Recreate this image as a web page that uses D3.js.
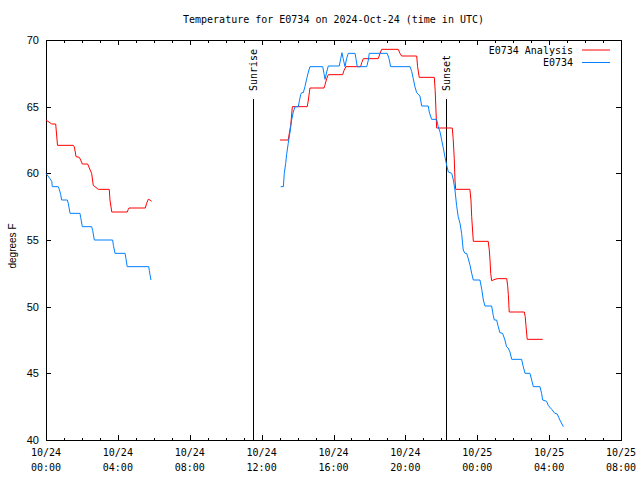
<!DOCTYPE html>
<html>
<head>
<meta charset="utf-8">
<script src="https://cdn.jsdelivr.net/npm/d3@7"></script>
<style>
  body { margin: 0; background: #fff; }
  svg { display: block; }
</style>
</head>
<body>
<svg id="chart" width="640" height="480"></svg>
<script>
// ---- Data (hours since 2024-10-24 00:00 UTC; null = gap) ----
const analysisHours = [0.00,0.32,0.54,0.64,1.52,1.57,1.63,1.67,1.85,1.93,2.02,2.32,2.41,2.54,2.63,2.91,3.52,3.56,3.66,4.52,4.58,4.62,5.53,5.60,5.69,5.79,5.88,
  null,
  13.02,13.48,13.54,13.62,13.71,14.54,14.60,14.69,15.47,15.52,15.62,15.71,16.51,16.58,16.69,17.51,17.57,17.66,18.49,18.59,18.68,19.60,19.70,19.79,20.63,20.68,20.77,21.61,21.66,21.74,22.61,22.66,22.72,22.76,22.80,23.59,23.65,23.69,23.78,24.61,24.67,24.71,24.75,24.80,24.99,25.11,25.64,25.69,25.73,25.78,26.62,26.67,26.71,26.78,27.64];
const analysisValues = [64.0,63.7,63.7,62.1,62.1,62.0,61.6,61.25,61.2,61.0,60.7,60.7,60.4,60.0,59.1,58.8,58.8,58.0,57.1,57.1,57.3,57.4,57.4,57.75,58.05,58.0,57.9,
  null,
  62.5,62.5,63.0,63.6,65.0,65.0,65.5,66.4,66.4,66.6,67.1,67.4,67.4,67.7,68.0,68.0,68.3,68.6,68.6,69.0,69.3,69.3,69.0,68.8,68.8,68.0,67.2,67.2,66.2,63.4,63.4,62.6,61.1,59.5,58.8,58.8,58.0,56.75,54.9,54.9,54.25,53.5,52.5,51.95,52.05,52.1,52.1,51.6,50.9,49.6,49.6,49.25,48.6,47.55,47.55];

const obsHours = [0.00,0.22,0.32,0.35,0.68,0.74,0.82,0.87,1.19,1.24,1.34,1.89,1.93,2.02,2.54,2.60,2.69,3.71,3.75,3.84,4.40,4.45,4.52,5.72,5.75,5.84,
  null,
  13.06,13.21,13.26,13.34,13.39,13.48,13.58,13.67,13.76,13.86,14.04,14.10,14.17,14.23,14.32,14.41,14.51,14.60,14.69,15.40,15.47,15.53,15.62,15.71,16.32,16.40,16.47,16.54,16.64,16.73,16.82,17.20,17.25,17.32,17.85,17.94,17.99,18.99,19.09,19.18,20.26,20.35,20.44,20.53,20.63,20.81,20.91,21.27,21.33,21.46,21.74,21.83,21.93,22.02,22.11,22.20,22.30,22.39,22.58,22.67,22.76,22.85,22.94,23.04,23.13,23.22,23.32,23.41,23.50,23.60,23.69,23.78,24.15,24.25,24.34,24.43,24.80,24.89,24.95,25.08,25.17,25.26,25.41,25.54,25.63,25.72,25.82,25.92,26.47,26.56,26.66,26.93,27.03,27.12,27.49,27.58,27.64,27.86,27.95,28.14,28.32,28.45,28.60,28.79];
const obsValues = [60.0,59.6,59.4,59.0,59.0,58.8,58.4,58.0,58.0,57.75,57.0,57.0,56.7,56.0,56.0,55.7,55.0,55.0,54.6,54.0,54.0,53.6,53.0,53.0,52.7,52.0,
  null,
  59.0,59.0,60.0,60.75,61.4,62.25,63.1,64.0,64.6,65.0,65.0,65.4,65.9,66.05,66.05,66.5,67.1,67.6,68.0,68.0,67.5,67.05,67.6,68.05,68.05,68.6,69.05,68.6,68.0,68.6,69.0,69.0,68.6,68.0,68.0,68.5,69.0,69.0,68.6,68.0,68.0,67.65,67.1,66.5,66.05,65.8,65.05,65.05,64.6,64.05,64.05,63.5,63.1,62.5,61.9,61.25,60.6,60.1,60.0,59.5,58.75,57.6,56.75,56.25,55.5,54.25,54.0,54.0,53.6,53.1,52.5,52.0,52.0,51.3,50.5,50.05,50.05,49.35,49.0,49.0,48.5,48.05,48.0,47.5,47.0,46.9,46.6,46.05,46.05,45.5,45.0,45.0,44.5,44.0,44.0,43.5,43.0,42.9,42.6,42.3,42.0,41.95,41.5,41.0];

const seriesNames = ["E0734 Analysis", "E0734"];
const sunEvents = ["Sunrise", "Sunset"];
const sunHours = [11.52, 22.24];

const xTickHours = [0, 4, 8, 12, 16, 20, 24, 28, 32];
const xTickDates = ["10/24","10/24","10/24","10/24","10/24","10/24","10/25","10/25","10/25"];
const xTickTimes = ["00:00","04:00","08:00","12:00","16:00","20:00","00:00","04:00","08:00"];
const yTickValues = [40, 45, 50, 55, 60, 65, 70];

const titleText = "Temperature for E0734 on 2024-Oct-24 (time in UTC)";
const yLabelText = "degrees F";

// ---- Layout ----
const L = 46, R = 621, T = 40, B = 440;
const colors = ["#ff0000", "#0080ff"];
const mono = "'DejaVu Sans Mono', 'Liberation Mono', monospace";
const sans = "'Liberation Sans', Arial, sans-serif";

const svg = d3.select("#chart");
const x = d3.scaleLinear().domain([0, 32]).range([L, R]);
const y = d3.scaleLinear().domain([40, 70]).range([B, T]);

const hourTicks = d3.range(0, 33);

// minor ticks (hourly)
function minor(axisGen) { return axisGen.tickValues(hourTicks).tickSize(-2.5).tickFormat(""); }
svg.append("g").attr("transform", `translate(0,${B})`).call(minor(d3.axisBottom(x)));
svg.append("g").attr("transform", `translate(0,${T})`).call(minor(d3.axisTop(x)));

// major x ticks
svg.append("g").attr("transform", `translate(0,${B})`)
  .call(d3.axisBottom(x).tickValues(xTickHours).tickSize(-5).tickFormat(""));
svg.append("g").attr("transform", `translate(0,${T})`)
  .call(d3.axisTop(x).tickValues(xTickHours).tickSize(-5).tickFormat(""));

// y ticks
svg.append("g").attr("transform", `translate(${L},0)`)
  .call(d3.axisLeft(y).tickValues(yTickValues).tickSize(-5).tickFormat(""));
svg.append("g").attr("transform", `translate(${R},0)`)
  .call(d3.axisRight(y).tickValues(yTickValues).tickSize(-5).tickFormat(""));

svg.selectAll(".domain").remove();
svg.selectAll(".tick line").attr("stroke", "#000").attr("shape-rendering", "crispEdges");

// frame
svg.append("rect").attr("x", L + 0.5).attr("y", T + 0.5)
  .attr("width", R - L).attr("height", B - T)
  .attr("fill", "none").attr("stroke", "#000").attr("stroke-width", 1)
  .attr("shape-rendering", "crispEdges");

// x tick labels
const xl = svg.append("g").attr("font-family", mono).attr("font-size", 10).attr("fill", "#000").attr("text-anchor", "middle");
xTickHours.forEach((h, i) => {
  const t = xl.append("text").attr("x", x(h)).attr("y", 456);
  t.append("tspan").attr("x", x(h)).text(xTickDates[i]);
  t.append("tspan").attr("x", x(h)).attr("dy", 15).text(xTickTimes[i]);
});

// y tick labels
svg.append("g").attr("font-family", sans).attr("font-size", 11).attr("text-anchor", "end")
  .selectAll("text").data(yTickValues).join("text")
  .attr("x", 39).attr("y", d => y(d)).attr("dy", "0.35em").text(d => d);

// y label
svg.append("text").attr("transform", `translate(12,246) rotate(-90)`)
  .attr("font-family", sans).attr("font-size", 10).attr("text-anchor", "middle")
  .attr("dy", "0.35em").text(yLabelText);

// title
svg.append("text").attr("x", (L + R) / 2).attr("y", 19).attr("dy", "0.35em")
  .attr("font-family", mono).attr("font-size", 10).attr("text-anchor", "middle").text(titleText);

// sunrise/sunset lines
sunEvents.forEach((name, i) => {
  const sx = Math.round(x(sunHours[i])) + 0.5;
  svg.append("line").attr("x1", sx).attr("x2", sx).attr("y1", y(65.6)).attr("y2", B)
    .attr("stroke", "#000").attr("stroke-width", 1).attr("shape-rendering", "crispEdges");
  svg.append("text").attr("transform", `translate(${sx},91) rotate(-90)`)
    .attr("font-family", mono).attr("font-size", 10).attr("text-anchor", "start")
    .attr("dy", "0.35em").text(name);
});

// series lines
const seriesHours = [analysisHours, obsHours];
const seriesValues = [analysisValues, obsValues];
const line = d3.line()
  .defined(d => d[0] !== null && d[1] !== null)
  .x(d => x(d[0])).y(d => y(d[1]));
seriesHours.forEach((hrs, i) => {
  const pts = hrs.map((h, j) => [h, seriesValues[i][j]]);
  svg.append("path").datum(pts)
    .attr("fill", "none").attr("stroke", colors[i]).attr("stroke-width", 1)
    .attr("d", line);
});

// legend
seriesNames.forEach((name, i) => {
  const ly = 50 + i * 12.5;
  svg.append("text").attr("x", 573).attr("y", ly).attr("dy", "0.35em")
    .attr("font-family", mono).attr("font-size", 10).attr("text-anchor", "end").text(name);
  svg.append("line").attr("x1", 582).attr("x2", 610).attr("y1", ly).attr("y2", ly)
    .attr("stroke", colors[i]).attr("stroke-width", 1);
});
</script>
</body>
</html>
